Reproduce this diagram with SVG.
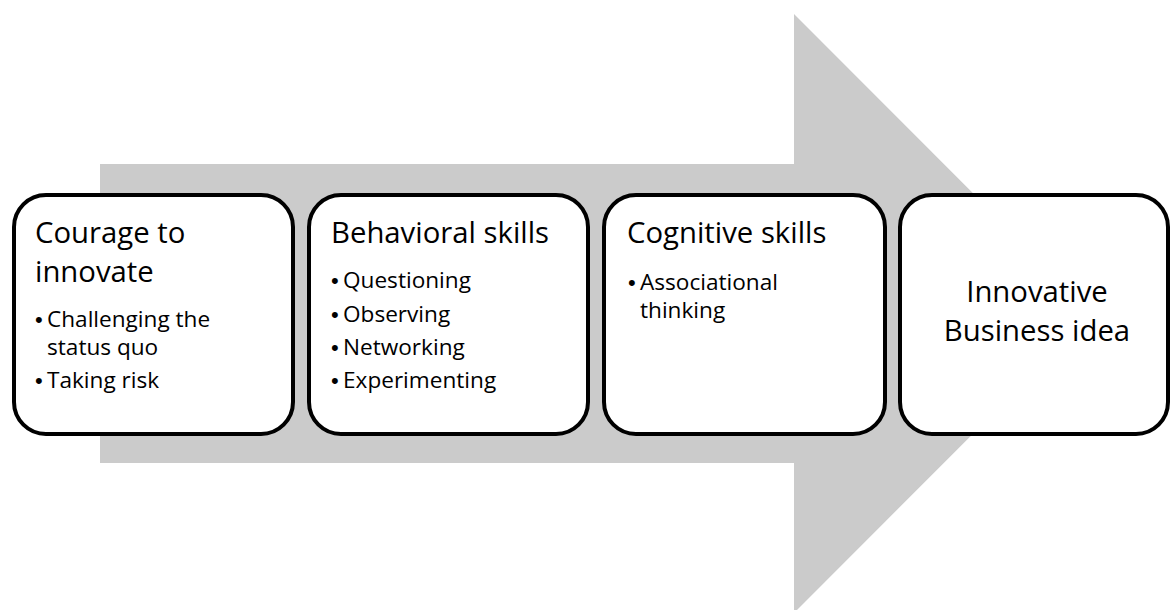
<svg xmlns="http://www.w3.org/2000/svg" width="1171" height="610" viewBox="0 0 1171 610">
  <style>
    .box { fill: #ffffff; stroke: #000000; stroke-width: 4; }
    .title { font-family: "Open Sans", "Liberation Sans", sans-serif; font-size: 29.3px; fill: #000000; }
    .item { font-family: "Open Sans", "Liberation Sans", sans-serif; font-size: 22.6px; fill: #000000; }
    .dot { font-family: "Liberation Sans", "DejaVu Sans", sans-serif; font-size: 22px; }
    .center { text-anchor: middle; }
  </style>
  <rect width="1171" height="610" fill="#ffffff"/>

  <!-- background block arrow -->
  <g id="arrow">
    <polygon points="100,164 794,164 794,14 1093,313.5 794,613 794,463 100,463" fill="#cbcbcb"/>
  </g>

  <g id="connectors"></g>

  <g id="node-courage">
    <rect class="box" x="14" y="195" width="279" height="239" rx="32" ry="32"/>
    <text class="title"><tspan x="35" y="243">Courage to</tspan><tspan x="35" y="282">innovate</tspan></text>
    <text class="item"><tspan class="dot" x="35" y="327">•</tspan><tspan x="47" y="327">Challenging the</tspan><tspan x="47" y="355">status quo</tspan></text>
    <text class="item" y="388"><tspan class="dot" x="35">•</tspan><tspan x="47">Taking risk</tspan></text>
  </g>

  <g id="node-behavioral">
    <rect class="box" x="309" y="195" width="279" height="239" rx="32" ry="32"/>
    <text class="title" x="331" y="243">Behavioral skills</text>
    <text class="item" y="288"><tspan class="dot" x="331">•</tspan><tspan x="343">Questioning</tspan></text>
    <text class="item" y="322"><tspan class="dot" x="331">•</tspan><tspan x="343">Observing</tspan></text>
    <text class="item" y="355"><tspan class="dot" x="331">•</tspan><tspan x="343">Networking</tspan></text>
    <text class="item" y="388"><tspan class="dot" x="331">•</tspan><tspan x="343">Experimenting</tspan></text>
  </g>

  <g id="node-cognitive">
    <rect class="box" x="604" y="195" width="281" height="239" rx="32" ry="32"/>
    <text class="title" x="627" y="243">Cognitive skills</text>
    <text class="item"><tspan class="dot" x="628" y="290">•</tspan><tspan x="640" y="290">Associational</tspan><tspan x="640" y="318">thinking</tspan></text>
  </g>

  <g id="node-idea">
    <rect class="box" x="900" y="195" width="268" height="239" rx="32" ry="32"/>
    <text class="title center" x="1037" y="302">Innovative</text>
    <text class="title center" x="1037" y="341">Business idea</text>
  </g>
</svg>
